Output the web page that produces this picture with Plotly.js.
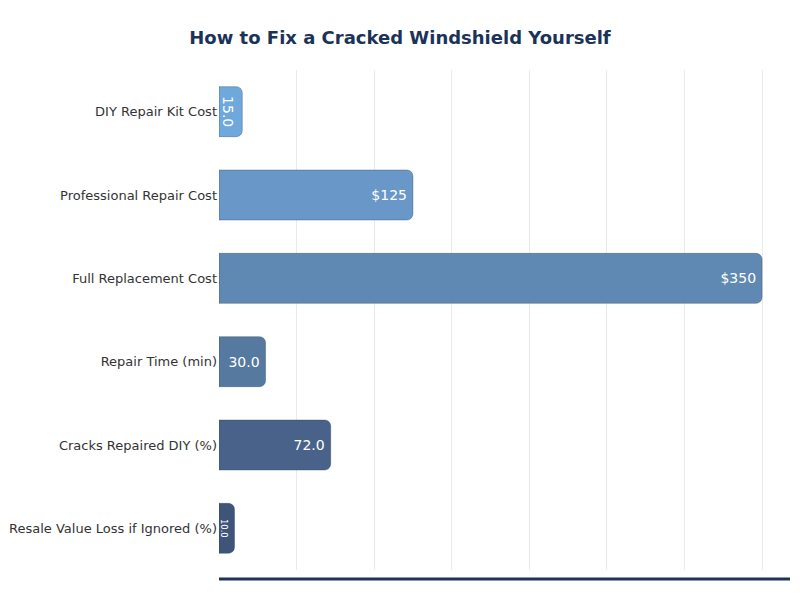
<!DOCTYPE html>
<html>
<head>
<meta charset="utf-8">
<script src="https://cdn.plot.ly/plotly-3.0.1.min.js"></script>
<style>
	html, body {margin:0; padding:0; background:#fff;}
	#myDiv {width:800px; height:600px;}
</style>
</head>
<body>
<div id="myDiv"></div>
<script>
// values
var categories = [
	'DIY Repair Kit Cost',
	'Professional Repair Cost',
	'Full Replacement Cost',
	'Repair Time (min)',
	'Cracks Repaired DIY (%)',
	'Resale Value Loss if Ignored (%)'
];
var values = [15, 125, 350, 30, 72, 10];
var labels = ['15.0', '$125', '$350', '30.0', '72.0', '10.0'];
var barColors = ['#6fa8dc', '#6998c8', '#5f89b2', '#55799f', '#48628a', '#3e5479'];

var data = [{
	y: categories,
	x: values,
	text: labels,
	type: 'bar',
	orientation: 'h',
	width: 0.6,
	textposition: 'inside',
	insidetextanchor: 'end',
	textfont: {color: '#ffffff', size: 14, family: 'DejaVu Sans'},
	hoverinfo: 'none',
	marker: {
		color: barColors,
		line: {color: 'rgba(40,60,90,0.35)', width: 1},
		cornerradius: 6
	}
}];

var layout = {
	width: 800,
	height: 600,
	title: {
		text: '<b>How to Fix a Cracked Windshield Yourself</b>',
		font: {family: 'DejaVu Sans', size: 18, color: '#1b3358'},
		x: 0.5,
		xanchor: 'center',
		y: 0.938,
		yanchor: 'middle'
	},
	font: {family: 'DejaVu Sans', color: '#333333', size: 13},
	paper_bgcolor: '#ffffff',
	plot_bgcolor: '#ffffff',
	showlegend: false,
	margin: {l: 219, r: 10, t: 70, b: 30, pad: 0},
	xaxis: {
		range: [0, 368],
		dtick: 50,
		showticklabels: false,
		showgrid: true,
		gridcolor: '#ebebeb',
		gridwidth: 1,
		zeroline: false,
		showline: false,
		fixedrange: true
	},
	yaxis: {
		autorange: 'reversed',
		showgrid: false,
		zeroline: false,
		showline: false,
		ticks: '',
		ticklabelstandoff: 1,
		tickfont: {size: 13, color: '#333333'},
		fixedrange: true
	},
	shapes: [{
		type: 'line',
		xref: 'paper',
		yref: 'paper',
		x0: 0,
		x1: 1,
		y0: -0.018,
		y1: -0.018,
		line: {color: '#1b3358', width: 3}
	}]
};

Plotly.newPlot('myDiv', data, layout, {displayModeBar: false, responsive: false});
</script>
</body>
</html>
